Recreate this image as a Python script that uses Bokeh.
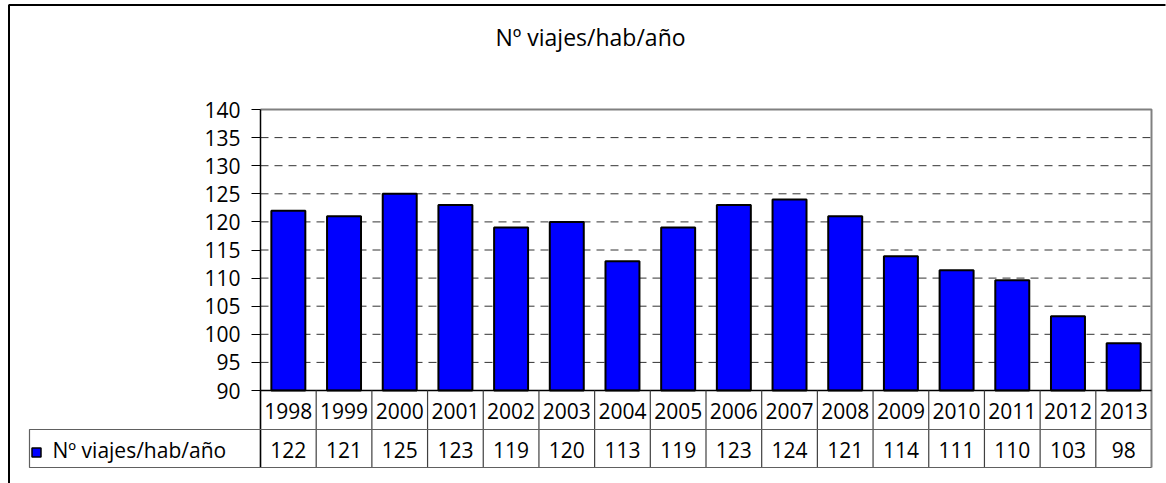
from bokeh.plotting import figure
from bokeh.models import Range1d, LinearAxis, FixedTicker, ColumnDataSource
from bokeh.core.properties import value
from bokeh.embed import file_html
from bokeh.resources import INLINE

# ---------------- data ----------------
title_text = "Nº viajes/hab/año"
series_name = "Nº viajes/hab/año"
years = ["1998", "1999", "2000", "2001", "2002", "2003", "2004", "2005",
         "2006", "2007", "2008", "2009", "2010", "2011", "2012", "2013"]
values = [122.0, 121.0, 125.0, 123.0, 119.0, 120.0, 113.0, 119.0,
          123.0, 124.0, 121.0, 113.9, 111.4, 109.6, 103.2, 98.4]
y_ticks = [90, 95, 100, 105, 110, 115, 120, 125, 130, 135, 140]

# ---------------- style / layout (page pixels) ----------------
FONT = value("Open Sans")
FS = value("21px")
FIG_L, FIG_T, W, H = 0, 0, 1166, 483
PL, PR, PT, PB = 260, 1151, 109, 390      # plot area
ROW1_B, ROW2_B = 429, 467                  # table rows bottoms
LEG_L = 29                                 # legend cell left
BORDER_L, BORDER_T = 8.5, 4.5              # outer chart border

n = len(years)
ymin, ymax = y_ticks[0], y_ticks[-1]
sx = (PR - PL) / n
sy = (PB - PT) / (ymax - ymin)


def xd(px):
    return (px - PL) / sx


def yd(py):
    return ymin + (PB - py) / sy


p = figure(width=W, height=H,
           x_range=Range1d(xd(FIG_L), xd(FIG_L + W)),
           y_range=Range1d(yd(FIG_T + H), yd(FIG_T)),
           x_axis_type=None, y_axis_type=None,
           toolbar_location=None, output_backend="svg", min_border=0)
p.outline_line_color = None
p.background_fill_color = "white"
p.border_fill_color = "white"

# dashed gridlines
grid_vals = y_ticks[1:-1]
p.segment(x0=[0] * len(grid_vals), x1=[n] * len(grid_vals), y0=grid_vals, y1=grid_vals,
          line_color="#333333", line_width=1, line_dash="8 6")

# plot-area top and right border (gray)
p.line(x=[0, n, n], y=[ymax, ymax, yd(ROW2_B)], line_color="#808080", line_width=2)

# bars
centers = [i + 0.5 for i in range(n)]
src = ColumnDataSource(dict(x=centers, top=values, year=years,
                            label=[str(round(v)) for v in values]))
p.vbar(x="x", top="top", bottom=ymin, width=0.61, source=src,
       fill_color="#0000FF", line_color="black", line_width=2)

# bottom axis line
p.line(x=[0, n], y=[ymin, ymin], line_color="black", line_width=1.5)

# y axis
yaxis = LinearAxis(fixed_location=0, bounds=(ymin, ymax), ticker=FixedTicker(ticks=y_ticks),
                   major_tick_out=9, major_tick_in=0, minor_tick_out=0, minor_tick_in=0,
                   major_label_standoff=11, major_label_text_font="Open Sans",
                   major_label_text_font_size="21px", major_label_text_color="black",
                   axis_line_color="black", axis_line_width=1.5,
                   major_tick_line_color="black")
p.add_layout(yaxis, "left")

# data table lines
bounds_x = list(range(n + 1))
p.segment(x0=bounds_x[:-1], x1=bounds_x[:-1], y0=[ymin] * n, y1=[yd(ROW2_B)] * n,
          line_color="#404040", line_width=1.2)
p.line(x=[0, 0], y=[ymin, yd(ROW2_B)], line_color="black", line_width=1.5)
p.line(x=[n, xd(LEG_L), xd(LEG_L), n], y=[yd(ROW1_B), yd(ROW1_B), yd(ROW2_B), yd(ROW2_B)],
       line_color="#606060", line_width=1.2)

# table texts
p.text(x="x", y=yd((PB + ROW1_B) / 2 + 1), text="year", source=src,
       text_align="center", text_baseline="middle", text_font=FONT,
       text_font_size=FS, text_color="black")
p.text(x="x", y=yd((ROW1_B + ROW2_B) / 2 + 1), text="label", source=src,
       text_align="center", text_baseline="middle", text_font=FONT,
       text_font_size=FS, text_color="black")

# legend key + name
p.rect(x=[xd(36)], y=[yd(452)], width=9, height=9, width_units="screen",
       height_units="screen", fill_color="#0000FF", line_color="black", line_width=1.5)
p.text(x=[xd(52)], y=[yd(449)], text=[series_name], text_align="left",
       text_baseline="middle", text_font=FONT, text_font_size=FS, text_color="black")

# title
p.text(x=[xd(590)], y=[yd(36)], text=[title_text], text_align="center",
       text_baseline="middle", text_font=FONT, text_font_size=value("23px"),
       text_color="black")

# outer chart border (top and left visible)
p.line(x=[xd(BORDER_L), xd(BORDER_L), xd(FIG_L + W - 1)],
       y=[yd(FIG_T + H), yd(BORDER_T), yd(BORDER_T)],
       line_color="black", line_width=2)

open("out.html", "w").write(file_html(p, INLINE))
